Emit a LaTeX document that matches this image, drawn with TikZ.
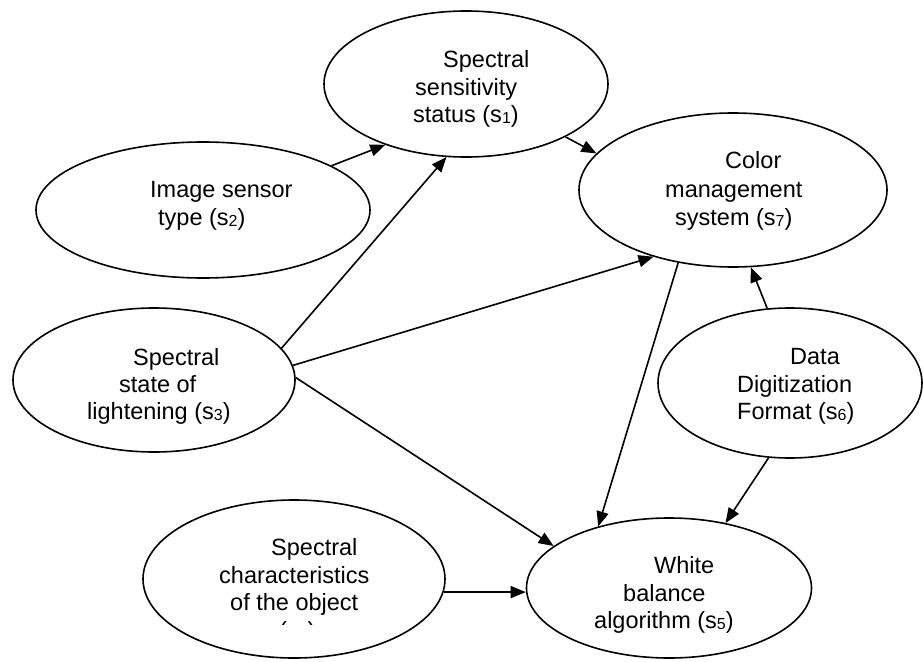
\documentclass[tikz,border=0pt]{standalone}
\usepackage{fontspec}
\setmainfont{Liberation Sans}
\usetikzlibrary{shapes.geometric,arrows.meta}
\newcommand{\subd}[1]{\raisebox{-1pt}{\fontsize{16}{16}\selectfont #1}}
\begin{document}
\begin{tikzpicture}[x=1pt,y=-1pt,
  ell/.style={draw,ellipse,line width=1.6pt,inner sep=0pt},
  txt/.style={anchor=base west,inner sep=0pt,font=\fontsize{23.5}{27.5}\selectfont},
  arr/.style={line width=1.6pt,-{Triangle[length=15pt,width=12pt]}}]
\useasboundingbox (0,0) rectangle (923,661);
% ellipses
\node[ell,minimum width=284pt,minimum height=146pt] (s1) at (466,84) {};
\node[ell,minimum width=334pt,minimum height=136pt] (s2) at (203,210) {};
\node[ell,minimum width=282pt,minimum height=144pt] (s3) at (154,380) {};
\node[ell,minimum width=302pt,minimum height=158pt] (s4) at (294,579) {};
\node[ell,minimum width=285pt,minimum height=140pt] (s5) at (669,588) {};
\node[ell,minimum width=264pt,minimum height=150pt] (s6) at (790,383) {};
\node[ell,minimum width=308pt,minimum height=154pt] (s7) at (733,190) {};
% labels
\node[txt] (t1a) at (443,67) {Spectral};
\node[txt] (t1b) at (415,95) {sensitivity};
\node[txt] (t1c) at (413,122) {status (s\subd{1})};
\node[txt] (t2a) at (150,197) {Image sensor};
\node[txt] (t2b) at (158,225) {type (s\subd{2})};
\node[txt] (t3a) at (133,365) {Spectral};
\node[txt] (t3b) at (119,392) {state of};
\node[txt] (t3c) at (87,419) {lightening (s\subd{3})};
\node[txt] (t7a) at (725,168) {Color};
\node[txt] (t7b) at (665,197) {management};
\node[txt] (t7c) at (675,225) {system (s\subd{7})};
\node[txt] (t6a) at (790,364) {Data};
\node[txt] (t6b) at (737,392) {Digitization};
\node[txt] (t6c) at (737,419) {Format (s\subd{6})};
\node[txt] (t5a) at (654,573) {White};
\node[txt] (t5b) at (623,601) {balance};
\node[txt] (t5c) at (594,628) {algorithm (s\subd{5})};
\node[txt] (t4a) at (271,555) {Spectral};
\node[txt] (t4b) at (219,583) {characteristics};
\node[txt] (t4c) at (230,610) {of the object};
\begin{scope}
\clip (140,615) rectangle (450,624.5);
\node[txt] (t4d) at (279,638) {(s\subd{4})};
\end{scope}
% connectors
\draw[arr] (s2.19) -- (s1.217);
\draw[arr] (s3.14) -- (s1.255);
\draw[arr] (s1.-28) -- (s7.165);
\draw[arr] (s3.6) -- (s7.220);
\draw[arr] (s3.1) -- (s5.160);
\draw[arr] (s7.233) -- (s5.139);
\draw[arr] (s6.107) -- (s7.283);
\draw[arr] (s6.254) -- (s5.49);
\draw[arr] (s4.-5) -- (s4.-5 -| s5.west);
\end{tikzpicture}
\end{document}
